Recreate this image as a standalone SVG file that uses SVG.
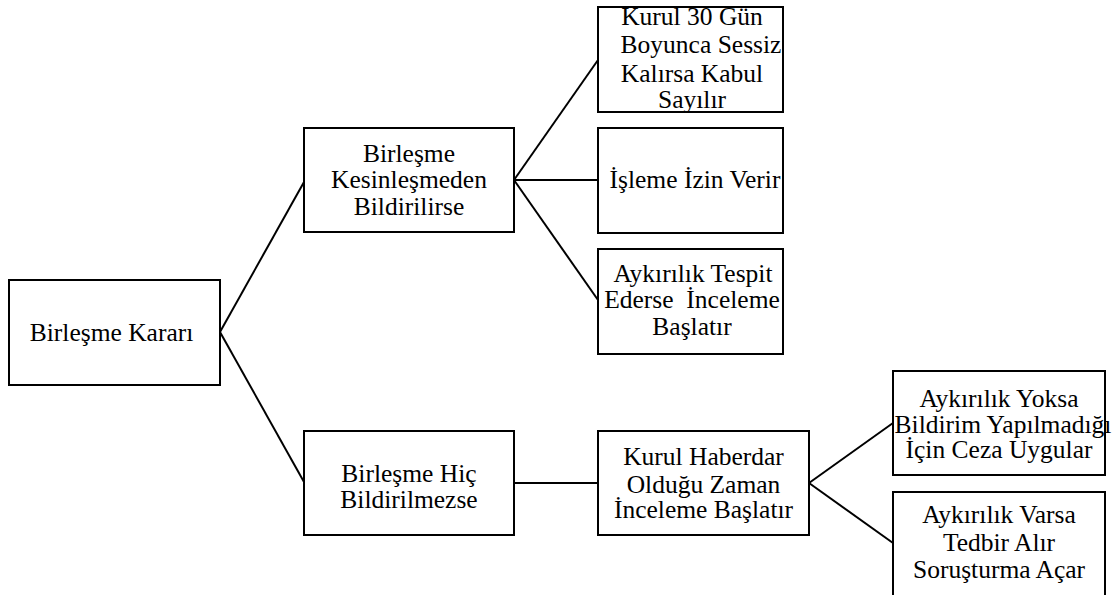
<svg xmlns="http://www.w3.org/2000/svg" width="1117" height="595" viewBox="0 0 1117 595">
<style>
.box{fill:#fff;stroke:#000;stroke-width:2}
.c{fill:none;stroke:#000;stroke-width:2}
.t{font-family:'Liberation Serif',serif;font-size:25.5px;fill:#000;text-anchor:middle}
</style>
<rect width="1117" height="595" fill="#fff"/>
<g id="connectors">
<line class="c" x1="220" y1="332" x2="304" y2="182"/>
<line class="c" x1="220" y1="332" x2="304" y2="482"/>
<line class="c" x1="514" y1="180" x2="598" y2="60"/>
<line class="c" x1="514" y1="180" x2="598" y2="180"/>
<line class="c" x1="514" y1="180" x2="598" y2="300"/>
<line class="c" x1="514" y1="483" x2="598" y2="483"/>
<line class="c" x1="809" y1="483" x2="893" y2="423"/>
<line class="c" x1="809" y1="483" x2="893" y2="543"/>
</g>
<g id="n1">
<rect class="box" x="9" y="280" width="211" height="105"/>
<text class="t" x="111.5" y="341">Birleşme Kararı</text>
</g>
<g id="n2">
<rect class="box" x="304" y="128" width="210" height="104"/>
<text class="t" x="409" y="162">Birleşme</text>
<text class="t" x="409" y="188">Kesinleşmeden</text>
<text class="t" x="409" y="215">Bildirilirse</text>
</g>
<g id="n3">
<rect class="box" x="598" y="7" width="185" height="105"/>
<text class="t" x="692" y="25">Kurul 30 Gün</text>
<text class="t" x="701" y="53">Boyunca Sessiz</text>
<text class="t" x="692" y="82">Kalırsa Kabul</text>
<text class="t" x="692" y="108">Sayılır</text>
</g>
<g id="n4">
<rect class="box" x="598" y="128" width="185" height="105"/>
<text class="t" x="695" y="188">İşleme İzin Verir</text>
</g>
<g id="n5">
<rect class="box" x="598" y="249" width="185" height="105"/>
<text class="t" x="693" y="282">Aykırılık Tespit</text>
<text class="t" x="692" y="308" xml:space="preserve">Ederse  İnceleme</text>
<text class="t" x="692" y="335">Başlatır</text>
</g>
<g id="n6">
<rect class="box" x="304" y="431" width="210" height="104"/>
<text class="t" x="409" y="482">Birleşme Hiç</text>
<text class="t" x="409" y="508">Bildirilmezse</text>
</g>
<g id="n7">
<rect class="box" x="598" y="431" width="211" height="104"/>
<text class="t" x="703.5" y="465">Kurul Haberdar</text>
<text class="t" x="703.5" y="493">Olduğu Zaman</text>
<text class="t" x="703.5" y="518">İnceleme Başlatır</text>
</g>
<g id="n8">
<rect class="box" x="893" y="371" width="212" height="104"/>
<text class="t" x="999" y="407">Aykırılık Yoksa</text>
<text class="t" x="1003" y="433">Bildirim Yapılmadığı</text>
<text class="t" x="999" y="458">İçin Ceza Uygular</text>
</g>
<g id="n9">
<rect class="box" x="893" y="492" width="212" height="110"/>
<text class="t" x="999" y="523">Aykırılık Varsa</text>
<text class="t" x="999" y="551">Tedbir Alır</text>
<text class="t" x="999" y="578">Soruşturma Açar</text>
</g>
</svg>
